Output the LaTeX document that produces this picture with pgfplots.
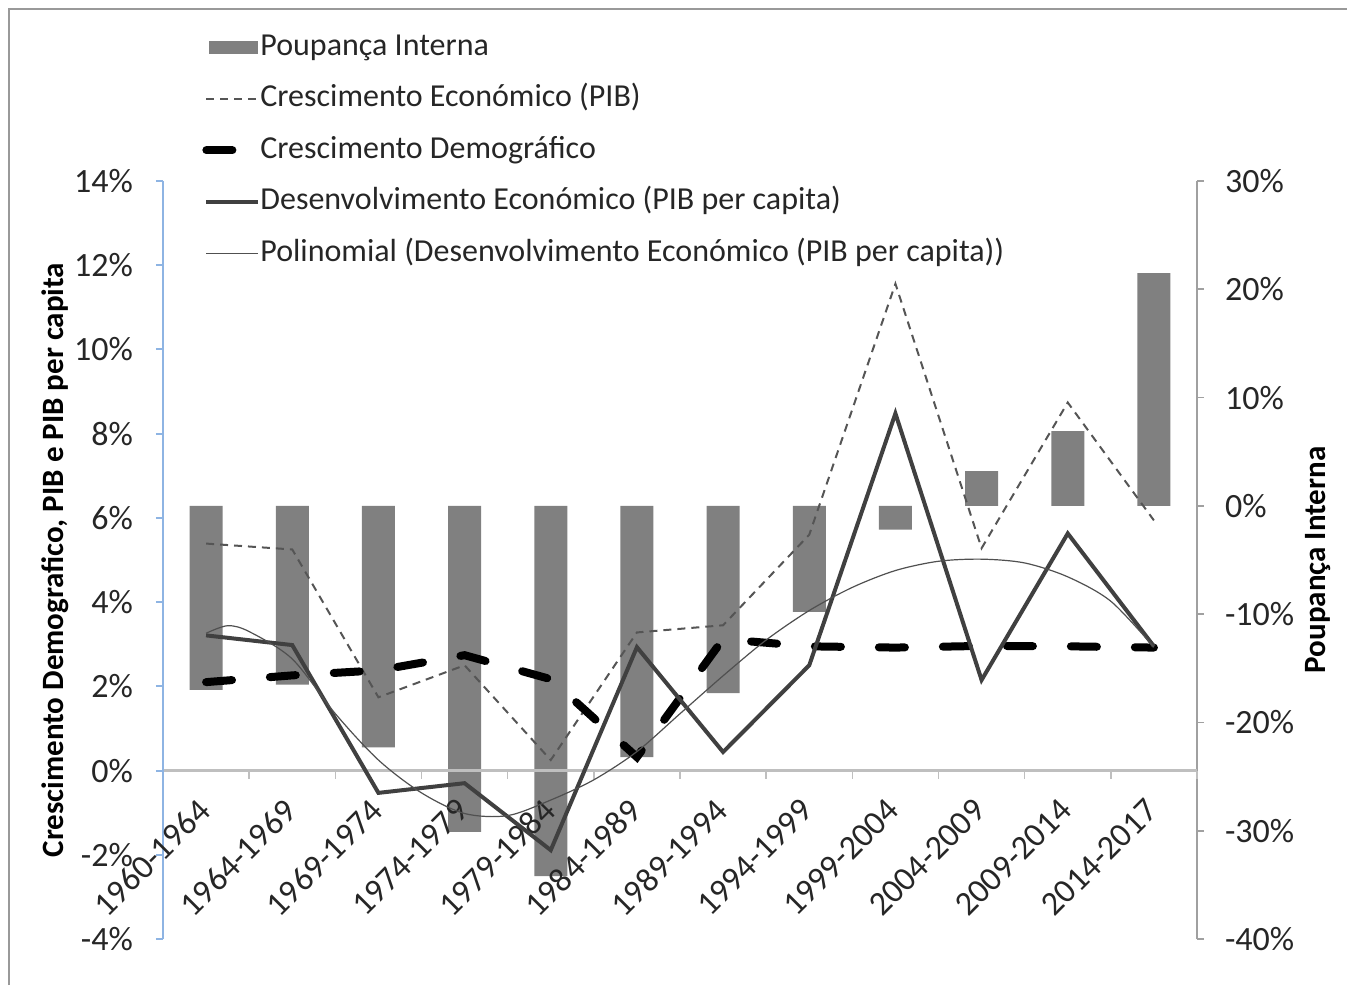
\documentclass[border=0pt]{standalone}
\usepackage{fontspec}
\setmainfont{Carlito}
\usepackage{pgfplots}
\pgfplotsset{compat=1.18}

\definecolor{barfill}{HTML}{808080}
\definecolor{pibcol}{HTML}{555555}
\definecolor{pccol}{HTML}{404040}
\definecolor{polycol}{HTML}{505050}
\definecolor{leftaxis}{HTML}{8EB4E3}
\definecolor{rightaxis}{HTML}{A0A0A0}
\definecolor{xaxis}{HTML}{BFBFBF}

\pgfplotsset{
  base/.style={
    scale only axis, width=517pt, height=379pt,
    at={(0,0)}, anchor=south west,
    xmin=-0.5, xmax=11.5,
    /pgf/number format/assume math mode=true,
    tick label style={font=\fontsize{17}{20}\selectfont, text=black!85},
    scaled ticks=false,
  },
  pct/.style={yticklabel={\pgfmathtruncatemacro{\v}{round(\tick)}\v\%}},
}

\begin{document}
\begin{tikzpicture}
\useasboundingbox (-81.5pt,-23pt) rectangle (592pt,469.5pt);

% Poupanca Interna (right axis)
\begin{axis}[base, pct,
  ymin=-40, ymax=30,
  axis x line=none, axis y line=right,
  y axis line style={-, draw=rightaxis, line width=0.8pt},
  ytick={-40,-30,...,30},
  ytick style={draw=rightaxis, line width=0.8pt},
  tick align=outside, major tick length=3.5pt,
  yticklabel style={xshift=7pt},
  every axis y label/.style={at={(axis description cs:1.117,0.5)}, rotate=90, anchor=center,
    font=\bfseries\fontsize{15.5}{18}\selectfont},
  ylabel={Poupança Interna},
]
\addplot[ybar, bar width=16.5pt, fill=barfill, draw=none] coordinates {
  (0,-17.0) (1,-16.5) (2,-22.3) (3,-30.1) (4,-34.2) (5,-23.2)
  (6,-17.3) (7,-9.8) (8,-2.2) (9,3.2) (10,6.9) (11,21.5)
};
\end{axis}

% growth rates (left axis)
\begin{axis}[base, pct,
  ymin=-4, ymax=14,
  axis y line=left, axis x line=middle,
  tick align=outside,
  hide obscured x ticks=false, hide obscured y ticks=false,
  x axis line style={-, draw=xaxis, line width=1.6pt},
  y axis line style={-, draw=leftaxis, line width=1pt},
  ytick={-4,-2,...,14},
  ytick style={draw=leftaxis, line width=1pt},
  major tick length=3.5pt, minor tick length=4pt,
  yticklabel style={xshift=-8pt},
  xtick={0,1,2,3,4,5,6,7,8,9,10,11},
  xticklabels={1960-1964,1964-1969,1969-1974,1974-1979,1979-1984,1984-1989,
    1989-1994,1994-1999,1999-2004,2004-2009,2009-2014,2014-2017},
  major x tick style={draw=none},
  minor xtick={-0.5,0.5,1.5,2.5,3.5,4.5,5.5,6.5,7.5,8.5,9.5,10.5,11.5},
  minor x tick style={draw=xaxis, line width=0.8pt},
  xticklabel style={yshift=-9.5pt, xshift=-5pt, rotate=45, anchor=north east, inner sep=0pt,
    font=\fontsize{17}{20}\selectfont},
  every axis y label/.style={at={(axis description cs:-0.1044,0.5)}, rotate=90, anchor=center,
    font=\bfseries\fontsize{15.5}{18}\selectfont},
  ylabel={Crescimento Demografico, PIB e PIB per capita},
  legend style={at={(axis description cs:0.0377,1.198)}, anchor=north west,
    draw=none, fill=none, inner sep=0pt, row sep=9.75pt, column sep=-1pt,
    font=\fontsize{16}{19}\selectfont, text=black!85,
    nodes={inner sep=0pt, text height=12pt, text depth=4pt}},
  legend cell align=left,
  legend image code/.code={\draw[#1] (0pt,0pt) -- (26pt,0pt);},
]
\addlegendimage{legend image code/.code={\fill[barfill] (1.5pt,-3pt) rectangle (25.5pt,3pt);}}
\addlegendentry{Poupança Interna}

\addplot[pibcol, line width=1pt, dash pattern=on 4pt off 3pt] coordinates {
  (0,5.39) (1,5.25) (2,1.74) (3,2.50) (4,0.25) (5,3.28)
  (6,3.45) (7,5.60) (8,11.56) (9,5.28) (10,8.74) (11,5.94)
};
\addlegendentry{Crescimento Económico (PIB)}

\addplot[black, line width=4pt, line cap=round, dash pattern=on 13pt off 19pt] coordinates {
  (0,2.10) (1,2.26) (2,2.38) (3,2.74) (4,2.17) (5,0.32)
  (6,3.12) (7,2.95) (8,2.92) (9,2.96) (10,2.95) (11,2.92)
};
\addlegendentry{Crescimento Demográfico}

\addplot[pccol, line width=2pt] coordinates {
  (0,3.21) (1,2.98) (2,-0.53) (3,-0.30) (4,-1.89) (5,2.93)
  (6,0.44) (7,2.50) (8,8.48) (9,2.15) (10,5.63) (11,2.95)
};
\addlegendentry{Desenvolvimento Económico (PIB per capita)}

\addplot[polycol, line width=0.6pt, smooth] coordinates {
  (0,3.26) (0.25,3.44) (0.5,3.30) (1,2.65) (1.5,1.35) (2,0.25) (2.5,-0.53)
  (3,-1.02) (3.5,-1.07) (4,-0.70) (4.5,-0.22) (5,0.45) (5.5,1.35) (6,2.25)
  (6.5,3.10) (7,3.80) (7.5,4.35) (8,4.75) (8.5,4.97) (9,5.02) (9.5,4.93)
  (10,4.60) (10.5,4.02) (11,2.93)
};
\addlegendentry{Polinomial (Desenvolvimento Económico (PIB per capita))}
\end{axis}

\draw[black!40, line width=1.2pt] (-77pt,-23pt) -- (-77pt,465pt) -- (592pt,465pt);
\end{tikzpicture}
\end{document}
